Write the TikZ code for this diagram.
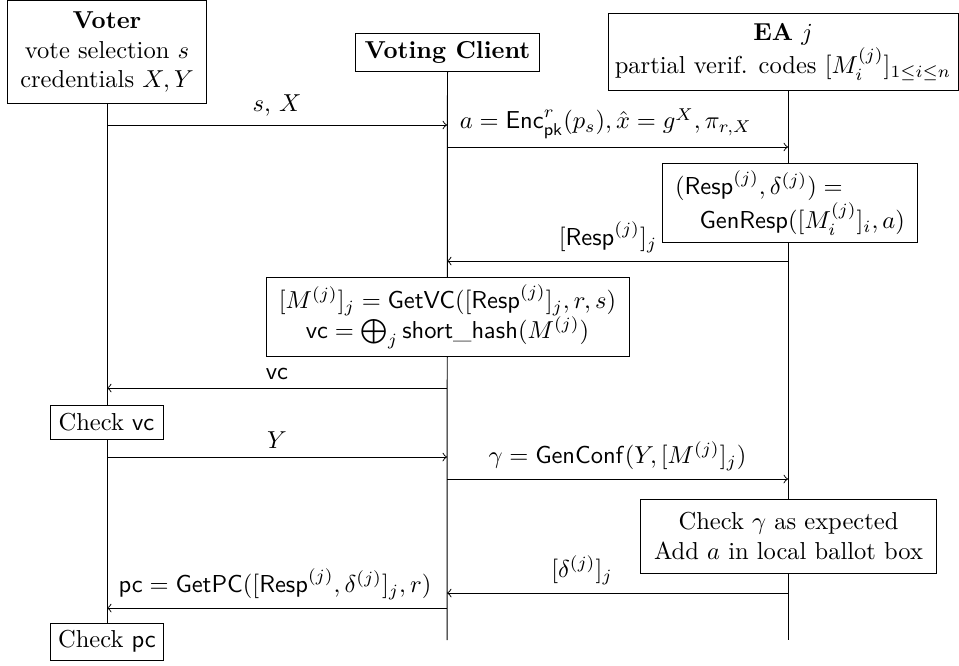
\documentclass[tikz,border=0pt]{standalone}
\usepackage{amsmath}
\usetikzlibrary{backgrounds}
\begin{document}
\begin{tikzpicture}[x=0.408pt,y=-0.408pt,
  box/.style={draw, fill=white, inner sep=2pt, align=center},
  msg/.style={->},
  lbl/.style={above}]
\useasboundingbox (0,0) rectangle (959,665);
% actors
\node[box, minimum width=80.8pt, minimum height=42.4pt] (voter) at (107,52)
  {\textbf{Voter}\\vote selection $s$\\credentials $X, Y$};
\node[box, minimum width=74.7pt, minimum height=15.5pt] (client) at (447.5,52)
  {\textbf{Voting Client}};
\node[box, minimum width=142.8pt, minimum height=31.8pt] (ea) at (783,52)
  {\textbf{EA} $j$\\partial verif. codes $[M_i^{(j)}]_{1\leq i\leq n}$};
% computation boxes
\node[box, align=left, minimum width=104.4pt, minimum height=32.6pt] (genresp) at (790,203)
  {$(\mathsf{Resp}^{(j)}, \delta^{(j)}) =$\\\quad$\mathsf{GenResp}([M_i^{(j)}]_i, a)$};
\node[box, minimum width=148.1pt, minimum height=32.6pt] (getvc) at (447.5,317)
  {$[M^{(j)}]_j = \mathsf{GetVC}([\mathsf{Resp}^{(j)}]_j, r, s)$\\
   $\mathsf{vc} = \bigoplus_j \mathsf{short\_hash}(M^{(j)})$};
\node[box, minimum width=46.1pt, minimum height=13.5pt] (checkvc) at (106.5,422.5)
  {Check $\mathsf{vc}$};
\node[box, minimum width=120.4pt, minimum height=30.2pt] (checkg) at (788.5,536)
  {Check $\gamma$ as expected\\Add $a$ in local ballot box};
\node[box, minimum width=46.5pt, minimum height=15.1pt] (checkpc) at (107,641.5)
  {Check $\mathsf{pc}$};
% lifeline coordinates
\coordinate (eatop) at (788,91);
\coordinate (cbot) at (447,640);
\coordinate (eabot) at (788,640);
\begin{scope}[on background layer]
\draw (voter.south) -- (checkpc.north);
\draw (client.south) -- (cbot);
\draw (eatop) -- (eabot);
\end{scope}
% message coordinates
\coordinate (v1) at (107,125); \coordinate (c1) at (447,125);
\coordinate (c2) at (447,147); \coordinate (e2) at (788,147);
\coordinate (e3) at (788,261); \coordinate (c3) at (447,261);
\coordinate (c4) at (447,388); \coordinate (v4) at (107,388);
\coordinate (v5) at (107,457); \coordinate (c5) at (447,457);
\coordinate (c6) at (447,479); \coordinate (e6) at (788,479);
\coordinate (e7) at (788,593); \coordinate (c7) at (447,593);
\coordinate (c8) at (447,608); \coordinate (v8) at (107,608);
% messages
\draw[msg] (v1) -- node[lbl] {$s$, $X$} (c1);
\draw[msg] (c2) -- node[lbl, pos=0.466] {$a = \mathsf{Enc}^r_{\mathsf{pk}}(p_s), \hat{x} = g^X, \pi_{r,X}$} (e2);
\draw[msg] (e3) -- node[lbl, pos=0.528] {$[\mathsf{Resp}^{(j)}]_j$} (c3);
\draw[msg] (c4) -- node[lbl] {$\mathsf{vc}$} (v4);
\draw[msg] (v5) -- node[lbl] {$Y$} (c5);
\draw[msg] (c6) -- node[lbl] {$\gamma = \mathsf{GenConf}(Y, [M^{(j)}]_j)$} (e6);
\draw[msg] (e7) -- node[lbl, pos=0.604] {$[\delta^{(j)}]_j$} (c7);
\draw[msg] (c8) -- node[lbl, pos=0.506] {$\mathsf{pc} = \mathsf{GetPC}([\mathsf{Resp}^{(j)}, \delta^{(j)}]_j, r)$} (v8);
\end{tikzpicture}
\end{document}
